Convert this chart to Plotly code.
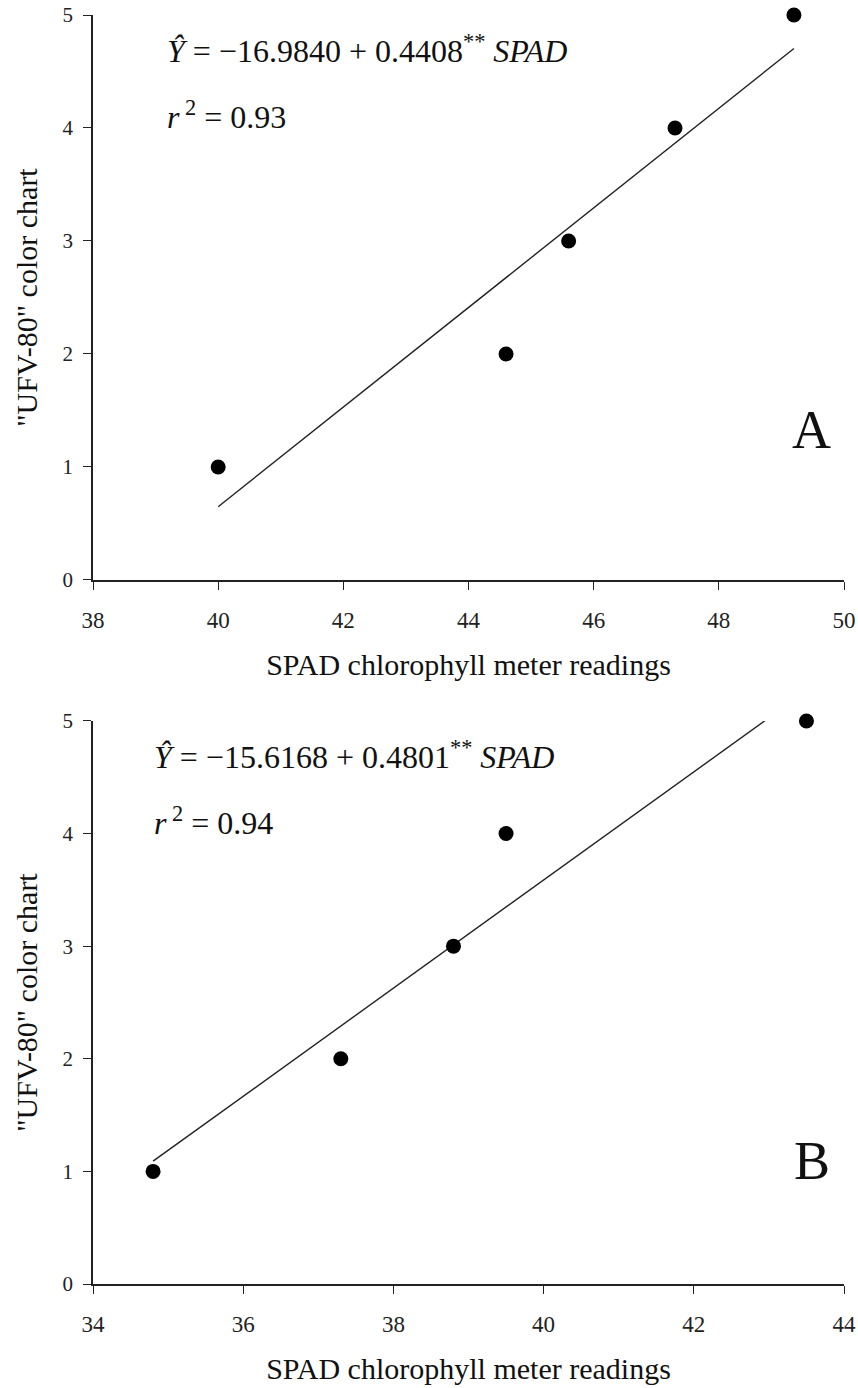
import plotly.graph_objects as go

# Panel A data
a_spad = [40.0, 44.6, 45.6, 47.3, 49.2]
a_chart = [1, 2, 3, 4, 5]
a_intercept, a_slope = -16.9840, 0.4408
a_fit_x = [40.0, 49.2]
a_eq = "<i>Ŷ</i> = −16.9840 + 0.4408<sup>**</sup> <i>SPAD</i>"
a_r2 = "<i>r</i><sup> 2</sup> = 0.93"

# Panel B data
b_spad = [34.8, 37.3, 38.8, 39.5, 43.5]
b_chart = [1, 2, 3, 4, 5]
b_intercept, b_slope = -15.6168, 0.4801
b_fit_x = [34.8, 42.95]
b_eq = "<i>Ŷ</i> = −15.6168 + 0.4801<sup>**</sup> <i>SPAD</i>"
b_r2 = "<i>r</i><sup> 2</sup> = 0.94"

x_title = "SPAD chlorophyll meter readings"
y_title = '"UFV-80" color chart'

FONT = "Liberation Serif"

fig = go.Figure()

def add_panel(xs, ys, fit_x, b0, b1, xa, ya):
    fit_y = [b0 + b1 * x for x in fit_x]
    fig.add_trace(go.Scatter(x=fit_x, y=fit_y, mode="lines",
                             line=dict(color="#222222", width=1.4),
                             xaxis=xa, yaxis=ya, showlegend=False, hoverinfo="skip"))
    fig.add_trace(go.Scatter(x=xs, y=ys, mode="markers",
                             marker=dict(color="black", size=15),
                             cliponaxis=False,
                             xaxis=xa, yaxis=ya, showlegend=False))

add_panel(a_spad, a_chart, a_fit_x, a_intercept, a_slope, "x", "y")
add_panel(b_spad, b_chart, b_fit_x, b_intercept, b_slope, "x2", "y2")

axis_common = dict(showgrid=False, zeroline=False, showline=True, linecolor="#222222",
                   linewidth=1.5, ticks="outside", ticklen=8, tickwidth=1.3,
                   tickcolor="#222222", automargin=False)
xfont = dict(family=FONT, size=23, color="#222222")
yfont = dict(family=FONT, size=21, color="#222222")
title_font = dict(family=FONT, size=30, color="#111111")

top_dom = [0.5548, 1.0]
bot_dom = [0.0, 0.4437]

fig.update_layout(
    width=858, height=1388,
    margin=dict(l=93, r=14, t=15, b=104, autoexpand=False),
    paper_bgcolor="white", plot_bgcolor="white",
    font=dict(family=FONT, color="#222222"),
    xaxis=dict(domain=[0, 1], anchor="y", range=[38, 50], dtick=2, tick0=38,
               ticklabelstandoff=11, tickfont=xfont,
               title=dict(text=x_title, font=title_font, standoff=22),
               **axis_common),
    yaxis=dict(domain=top_dom, anchor="x", range=[0, 5], dtick=1,
               ticklabelstandoff=6, tickfont=yfont,
               title=dict(text=y_title, font=title_font, standoff=16),
               **axis_common),
    xaxis2=dict(domain=[0, 1], anchor="y2", range=[34, 44], dtick=2, tick0=34,
                ticklabelstandoff=11, tickfont=xfont,
                title=dict(text=x_title, font=title_font, standoff=22),
                **axis_common),
    yaxis2=dict(domain=bot_dom, anchor="x2", range=[0, 5], dtick=1,
                ticklabelstandoff=6, tickfont=yfont,
                title=dict(text=y_title, font=title_font, standoff=16),
                **axis_common),
)

ann_font = dict(family=FONT, size=32, color="#111111")
anns = [
    dict(xref="x domain", yref="y domain", x=0.096, y=0.94, text=a_eq),
    dict(xref="x domain", yref="y domain", x=0.096, y=0.823, text=a_r2),
    dict(xref="x2 domain", yref="y2 domain", x=0.079, y=0.94, text=b_eq),
    dict(xref="x2 domain", yref="y2 domain", x=0.079, y=0.823, text=b_r2),
]
for a in anns:
    fig.add_annotation(showarrow=False, xanchor="left", yanchor="middle", font=ann_font, **a)

fig.add_annotation(xref="x domain", yref="y domain", x=0.957, y=0.265, text="A",
                   showarrow=False, xanchor="center", yanchor="middle",
                   font=dict(family=FONT, size=54, color="#111111"))
fig.add_annotation(xref="x2 domain", yref="y2 domain", x=0.958, y=0.218, text="B",
                   showarrow=False, xanchor="center", yanchor="middle",
                   font=dict(family=FONT, size=54, color="#111111"))

fig.write_html("out.html", config={"displayModeBar": False},
               post_script="document.body.style.margin='0';document.body.style.overflow='hidden';")
